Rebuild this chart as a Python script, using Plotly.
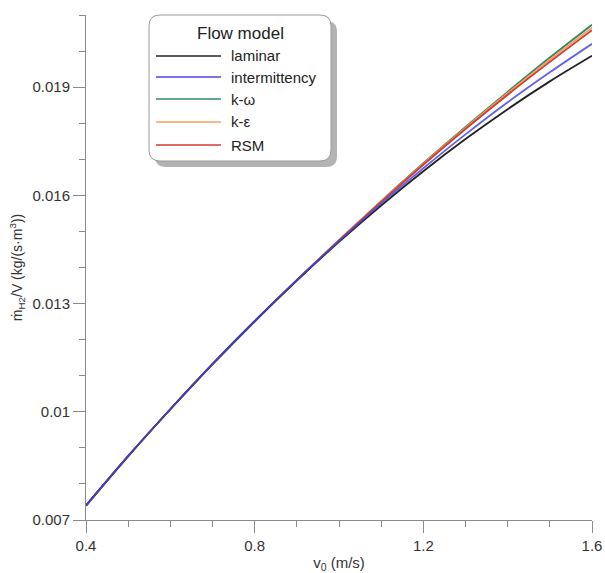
import plotly.graph_objects as go

# ---------------- data ----------------
x_vals = [0.4, 0.5, 0.6, 0.7, 0.8, 0.9, 1.0, 1.1, 1.2, 1.3, 1.4, 1.5, 1.6]
laminar = [0.00740, 0.00877, 0.01007, 0.01132, 0.01251, 0.01364, 0.01471,
           0.01572, 0.01667, 0.01756, 0.01839, 0.01916, 0.01987]
intermittency = [0.00740, 0.00877, 0.01007, 0.01132, 0.01251, 0.01365, 0.01473,
                 0.01577, 0.01675, 0.01769, 0.01858, 0.01941, 0.02020]
k_omega = [0.00740, 0.00877, 0.01007, 0.01132, 0.01251, 0.01365, 0.01476,
           0.01584, 0.01689, 0.01790, 0.01887, 0.01982, 0.02073]
k_epsilon = [0.00740, 0.00877, 0.01007, 0.01132, 0.01251, 0.01365, 0.01476,
             0.01583, 0.01687, 0.01787, 0.01883, 0.01976, 0.02065]
rsm = [0.00740, 0.00877, 0.01007, 0.01132, 0.01251, 0.01365, 0.01475,
       0.01582, 0.01685, 0.01784, 0.01879, 0.01970, 0.02058]

series_names = ["laminar", "intermittency", "k-ω", "k-ε", "RSM"]
series_values = [laminar, intermittency, k_omega, k_epsilon, rsm]
series_colors = ["#222222", "#4646e6", "#2f8a68", "#f5a15c", "#d63a2e"]
draw_order = [2, 3, 4, 0, 1]

y_tickvals = [0.007, 0.010, 0.013, 0.016, 0.019]
y_ticktext = ["0.007", "0.01", "0.013", "0.016", "0.019"]
x_tickvals = [0.4, 0.8, 1.2, 1.6]
x_ticktext = ["0.4", "0.8", "1.2", "1.6"]

# ---------------- geometry ----------------
W, H = 605, 573
L, R, T, B = 86, 13, 15, 53
PW, PH = W - L - R, H - T - B


def px(xp):
    return (xp - L) / PW


def py(yp):
    return (H - B - yp) / PH


FONT = "Liberation Sans, Arial, sans-serif"
AX = "#8a8a8a"

fig = go.Figure()
for i in draw_order:
    fig.add_trace(go.Scatter(
        x=x_vals, y=series_values[i], mode="lines", name=series_names[i],
        line=dict(color=series_colors[i], width=1.8, shape="spline"),
        opacity=0.85 if i == 1 else 1.0, showlegend=False))

fig.update_layout(
    width=W, height=H,
    margin=dict(l=L, r=R, t=T, b=B, autoexpand=False),
    paper_bgcolor="white", plot_bgcolor="white",
    font=dict(family=FONT, color="#333333", size=15),
    showlegend=False,
)
fig.update_xaxes(
    range=[0.4, 1.6], showgrid=False, zeroline=False,
    showline=True, linecolor=AX, linewidth=1,
    tickmode="array", tickvals=x_tickvals, ticktext=x_ticktext,
    ticks="outside", ticklen=12, tickcolor=AX, tickwidth=1,
    tickfont=dict(size=15, color="#333333"),
    minor=dict(ticks="outside", ticklen=6, tickcolor=AX, dtick=0.1, tick0=0.4),
    title=dict(text="v<sub>0</sub> (m/s)", font=dict(size=15, color="#333333"), standoff=7),
    automargin=False,
)
fig.update_yaxes(
    range=[0.007, 0.021], showgrid=False, zeroline=False,
    showline=True, linecolor=AX, linewidth=1,
    tickmode="array", tickvals=y_tickvals, ticktext=y_ticktext,
    ticks="outside", ticklen=12, tickcolor=AX, tickwidth=1,
    tickfont=dict(size=15, color="#333333"),
    minor=dict(ticks="outside", ticklen=6, tickcolor=AX, dtick=0.001, tick0=0.007),
    title=dict(text="ṁ<sub>H2</sub>/V (kg/(s·m<sup>3</sup>))",
               font=dict(size=14, color="#333333"), standoff=6),
    automargin=False,
)

# ---------------- custom legend box ----------------
def rounded_path(x0, y0, x1, y1, r):
    pts = (f"M{px(x0 + r)},{py(y0)} L{px(x1 - r)},{py(y0)} "
           f"Q{px(x1)},{py(y0)} {px(x1)},{py(y0 + r)} "
           f"L{px(x1)},{py(y1 - r)} Q{px(x1)},{py(y1)} {px(x1 - r)},{py(y1)} "
           f"L{px(x0 + r)},{py(y1)} Q{px(x0)},{py(y1)} {px(x0)},{py(y1 - r)} "
           f"L{px(x0)},{py(y0 + r)} Q{px(x0)},{py(y0)} {px(x0 + r)},{py(y0)} Z")
    return pts


bx0, by0, bx1, by1 = 149, 15, 331, 161
fig.add_shape(type="path", xref="paper", yref="paper",
              path=rounded_path(bx0 + 6, by0 + 6, bx1 + 6, by1 + 6, 11),
              fillcolor="#b3b3b3", line=dict(width=0), layer="above")
fig.add_shape(type="path", xref="paper", yref="paper",
              path=rounded_path(bx0, by0, bx1, by1, 11),
              fillcolor="white", line=dict(color="#9a9a9a", width=1), layer="above")

fig.add_annotation(x=px(240), y=py(33), xref="paper", yref="paper",
                   text="Flow model", showarrow=False,
                   font=dict(size=17, color="#222222", family=FONT),
                   xanchor="center", yanchor="middle")
item_y = [56, 77, 99, 122, 145]
for i, name in enumerate(series_names):
    yy = item_y[i]
    fig.add_shape(type="line", xref="paper", yref="paper",
                  x0=px(156), x1=px(221), y0=py(yy), y1=py(yy),
                  line=dict(color=series_colors[i], width=1.6), layer="above")
    fig.add_annotation(x=px(229), y=py(yy), xref="paper", yref="paper",
                       text=name, showarrow=False,
                       font=dict(size=15, color="#222222", family=FONT),
                       xanchor="left", yanchor="middle")

fig.write_html("out.html")
